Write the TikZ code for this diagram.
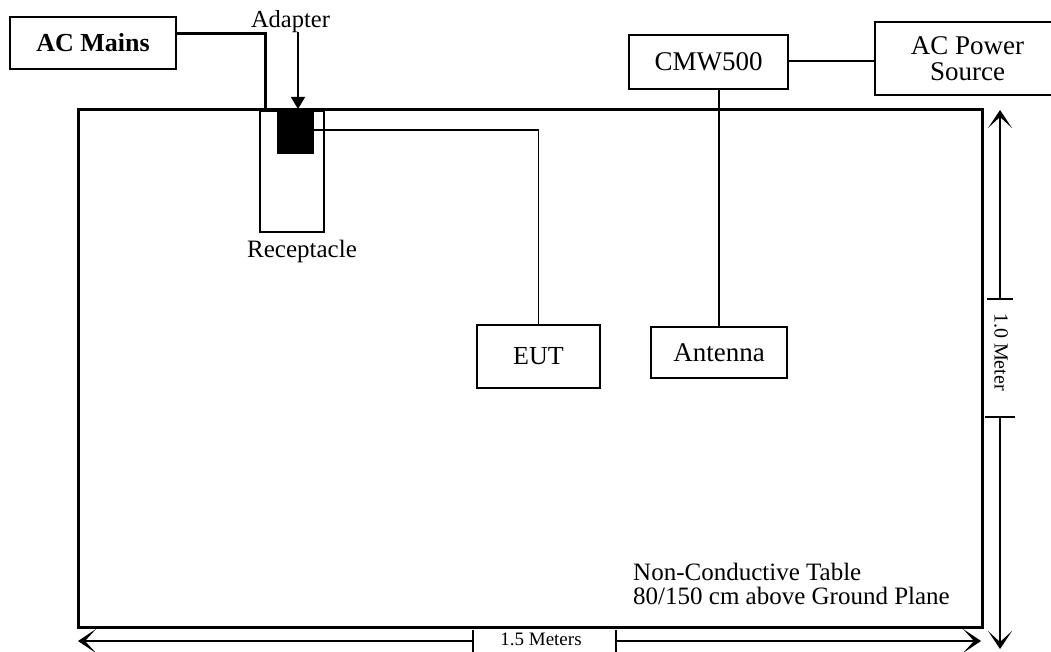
\documentclass[tikz,border=0pt]{standalone}
\usepackage{fontspec}
\setmainfont{Liberation Serif}
\usetikzlibrary{arrows.meta}
\begin{document}
\begin{tikzpicture}[x=1pt,y=-1pt,
  box/.style={draw, line width=1.3pt, inner sep=0pt, align=center},
  wire/.style={line width=1.4pt},
  dim/.style={line width=1.3pt},
  dimhead/.style={-{Stealth[length=18pt,width=24pt,inset=11pt]}},
  lbl/.style={inner sep=0pt, font=\fontsize{25}{30}\selectfont}]
\useasboundingbox (0,0) rectangle (1051,652);
\clip (0,0) rectangle (1051,652);
% table
\node[draw, line width=3pt, minimum width=904pt, minimum height=517pt, inner sep=0pt] (table) at (530,368.5) {};
% receptacle and adapter block
\node[draw, line width=1.3pt, minimum width=64pt, minimum height=121pt, inner sep=0pt] (rec) at (292,171.5) {};
\node[fill=black, minimum width=37pt, minimum height=43pt, inner sep=0pt] (plug) at (295.5,132.5) {};
\node[lbl, anchor=base] (reclbl) at (302,258) {Receptacle};
\node[lbl, anchor=base, font=\fontsize{24.5}{30}\selectfont] (adlbl) at (290.5,28) {Adapter};
\coordinate (adtop) at (298,32);
\coordinate (adtip) at (298,109);
\draw[line width=1.3pt, -{Triangle[length=12pt,width=14pt]}] (adtop) -- (adtip);
% AC mains
\node[box, minimum width=166pt, minimum height=52pt, font=\bfseries\fontsize{26}{30}\selectfont] (acm) at (93,43) {AC Mains};
\coordinate (tin) at (265,110);
\draw[line width=3pt] ([yshift=9pt]acm.east) -| (tin);
% CMW500 and AC power source
\node[box, minimum width=159pt, minimum height=54pt, font=\fontsize{27}{30}\selectfont] (cmw) at (708.5,62) {CMW500};
\node[box, minimum width=185pt, minimum height=73pt, font=\fontsize{27}{26}\selectfont] (acp) at (967.5,58.5) {AC Power\\Source};
\draw[wire] ([yshift=1pt]cmw.east) -- ([yshift=1pt]acp.west |- cmw.east);
% antenna and EUT
\node[box, minimum width=136pt, minimum height=51pt, font=\fontsize{27}{30}\selectfont] (ant) at (719,352.5) {Antenna};
\draw[wire] (ant.north) -- (ant.north |- cmw.south);
\node[box, minimum width=123pt, minimum height=63pt, font=\fontsize{26}{30}\selectfont] (eut) at (538.5,356.5) {EUT};
\draw[wire] ([yshift=2.5pt]plug.east) -| (eut.north);
% table caption
\node[inner sep=0pt, align=left, anchor=base west, font=\fontsize{25}{24}\selectfont] (nc) at (633,604) {Non-Conductive Table\\80/150 cm above Ground Plane};
% vertical dimension
\coordinate (vtop) at (1000,110);
\coordinate (vbot) at (1000,649);
\coordinate (vt1) at (1000,299);
\coordinate (vt2) at (1000,417);
\draw[dim, dimhead] (vt1) -- (vtop);
\draw[dim, dimhead] (vt2) -- (vbot);
\draw[dim] ([xshift=-13pt]vt1) -- ([xshift=13pt]vt1);
\draw[dim] ([xshift=-15pt]vt2) -- ([xshift=15pt]vt2);
\node[rotate=-90, inner sep=0pt, font=\fontsize{20}{24}\selectfont] (mlbl) at (1001,352) {1.0 Meter};
% horizontal dimension
\coordinate (hl) at (78,641);
\coordinate (hr) at (981,641);
\coordinate (ht1) at (473,641);
\coordinate (ht2) at (616,641);
\draw[dim, dimhead] (ht1) -- (hl);
\draw[dim, dimhead] (ht2) -- (hr);
\draw[dim] ([yshift=11pt]ht1) -- ([yshift=-12pt]ht1);
\draw[dim] ([yshift=11pt]ht2) -- ([yshift=-12pt]ht2);
\node[anchor=base, inner sep=0pt, font=\fontsize{19}{24}\selectfont] (hlbl) at (541,645) {1.5 Meters};
\end{tikzpicture}
\end{document}
